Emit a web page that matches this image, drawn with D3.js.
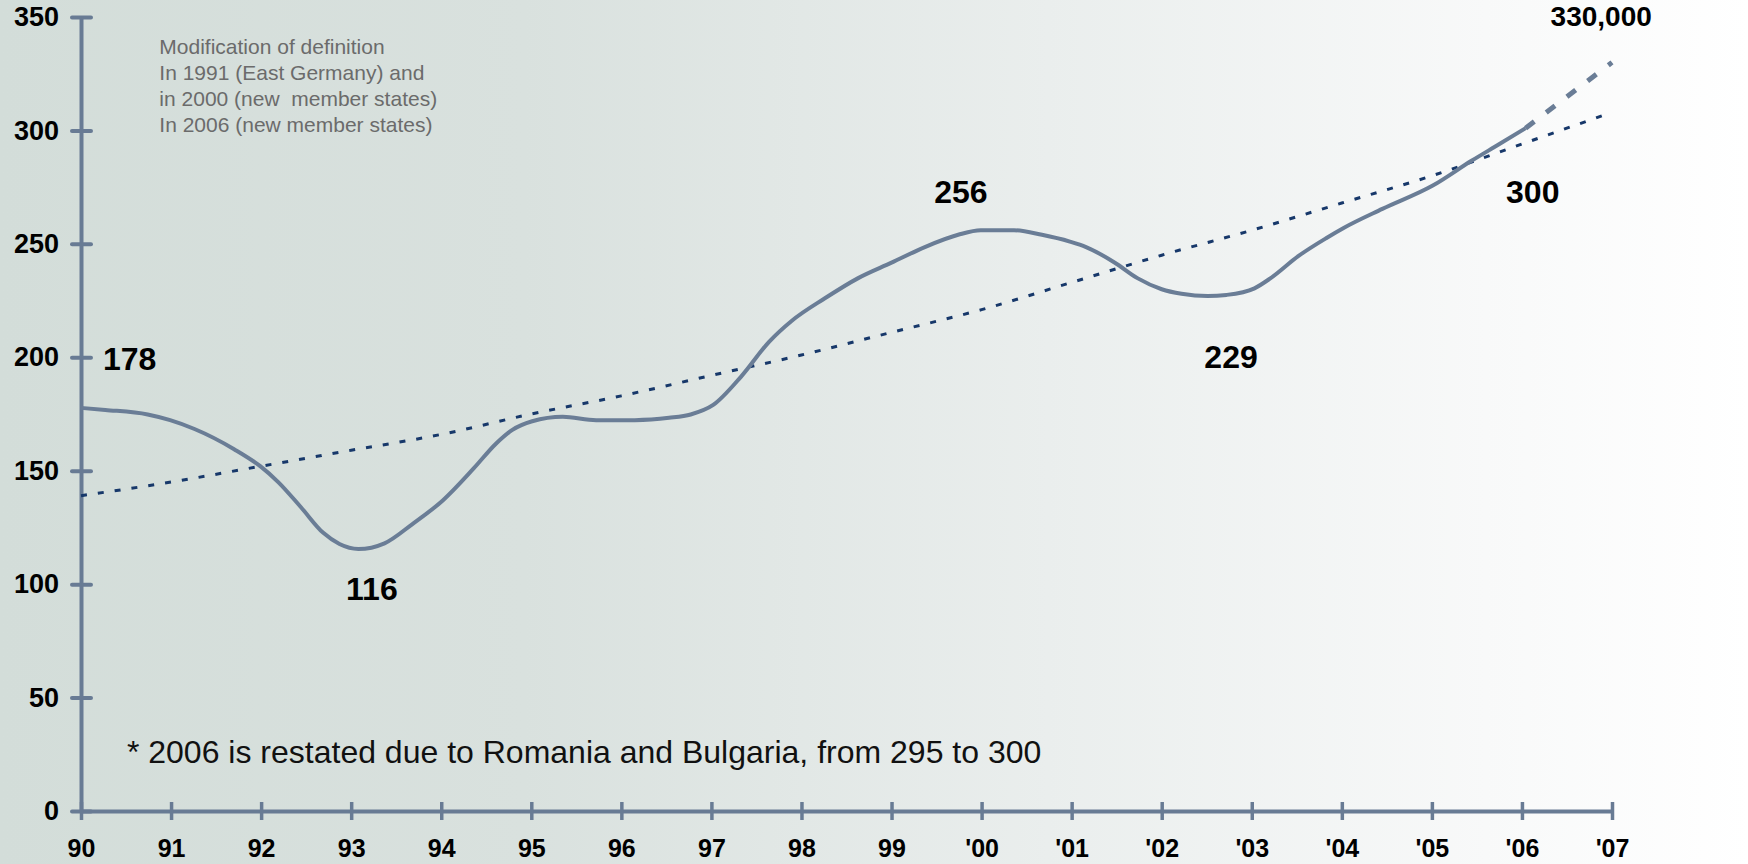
<!DOCTYPE html>
<html>
<head>
<meta charset="utf-8">
<script src="https://cdn.jsdelivr.net/npm/d3@7"></script>
<style>
  html, body { margin: 0; padding: 0; background: #fff; }
  svg { display: block; }
  text { font-family: "Liberation Sans", Arial, sans-serif; }
</style>
</head>
<body>
<svg id="chart" width="1748" height="864"></svg>
<script>
// ---------- data ----------
const tickYears = [1990,1991,1992,1993,1994,1995,1996,1997,1998,1999,2000,2001,2002,2003,2004,2005,2006,2007];
const tickLabels = ["90","91","92","93","94","95","96","97","98","99","'00","'01","'02","'03","'04","'05","'06","'07"];
const yTicks = [0,50,100,150,200,250,300,350];

const actualYears = [1990.00,1990.27,1990.74,1990.99,1991.26,1991.70,1991.99,1992.19,1992.44,1992.69,1992.87,1993.08,
  1993.37,1993.68,1994.02,1994.36,1994.61,1994.79,1995.01,1995.35,1995.72,1996.15,1996.53,1996.77,1997.02,1997.33,
  1997.64,1997.89,1998.26,1998.63,1999.00,1999.37,1999.74,1999.99,2000.36,2000.67,2000.98,2001.16,2001.48,2001.73,
  2002.00,2002.22,2002.51,2002.72,2003.03,2003.21,2003.52,2003.83,2004.02,2004.45,2005.01,2005.44,2005.75,2006.04];
const actualValues = [177.7,176.8,174.8,172.3,168.4,159.5,152,145,134,122.6,117.7,115.5,
  118,126.5,137,151,162,168,171.8,173.8,172.3,172.3,173.3,174.8,179,191.5,
  206.8,216,226,234.9,241.7,248.6,254,256,256,254,251,248.6,241.7,234.9,
  230,228,227,227.5,230.4,234.9,244.7,252.6,257,265.4,275.7,286.6,294,301];

// forecast extension
const forecastYears = [2006.04, 2007];
const forecastValues = [301, 330];

// trend line
const trendYears = tickYears;
const trendValues = [139,145,152,159,166,175,183,192,201,211,221,233,245,256,268,280,294,308];

// annotations
const annoText   = ["178","116","256","229","300"];
const annoYears  = [1990.54,1993.23,1999.77,2002.77,2006.12];
const annoValues = [194.6,93.1,268.1,195.3,268.1];

const noteLines = ["Modification of definition","In 1991 (East Germany) and","in 2000 (new  member states)","In 2006 (new member states)"];
const footnote = "* 2006 is restated due to Romania and Bulgaria, from 295 to 300";
const topLabel = "330,000";

// ---------- drawing ----------
const W = 1748, H = 864;
const svg = d3.select("#chart");

const defs = svg.append("defs");
const grad = defs.append("linearGradient").attr("id","bg").attr("x1","0").attr("x2","1").attr("y1","0").attr("y2","0");
[[0,"#d3ddd9"],[0.3,"#d9e1de"],[0.6,"#eaeeed"],[0.85,"#f8f9f9"],[1,"#ffffff"]].forEach(s =>
  grad.append("stop").attr("offset", s[0]).attr("stop-color", s[1]));
svg.append("rect").attr("width", W).attr("height", H).attr("fill","url(#bg)");

const x = d3.scaleLinear().domain([1990, 2007]).range([81, 1612]);
const y = d3.scaleLinear().domain([0, 350]).range([811, 17]);

const axisColor = "#687b94";

// y axis
const yAxis = svg.append("g").attr("transform", `translate(${x(1990)},0)`)
  .call(d3.axisLeft(y).tickValues(yTicks).tickSize(0).tickPadding(22));
yAxis.select(".domain").attr("stroke", axisColor).attr("stroke-width", 4);
yAxis.selectAll(".tick line").remove();
yAxis.selectAll(".tick").append("line").attr("x1",-9).attr("x2",10)
  .attr("stroke", axisColor).attr("stroke-width", 4).attr("stroke-linecap","round");
yAxis.selectAll(".tick text").attr("fill","#000").style("font-size","27px").style("font-weight","bold");

// x axis
const xAxis = svg.append("g").attr("transform", `translate(0,${y(0)})`)
  .call(d3.axisBottom(x).tickValues(tickYears).tickFormat((d,i) => tickLabels[i]).tickSize(0).tickPadding(28));
xAxis.select(".domain").attr("stroke", axisColor).attr("stroke-width", 4);
xAxis.selectAll(".tick line").remove();
xAxis.selectAll(".tick").append("line").attr("y1",-9).attr("y2",9)
  .attr("stroke", axisColor).attr("stroke-width", 3.5);
xAxis.selectAll(".tick text").attr("fill","#000").style("font-size","25px").style("font-weight","bold");
svg.selectAll(".tick text").attr("font-size", null).attr("font-family", null);

// trend line
const line = d3.line().x(d => x(d[0])).y(d => y(d[1]));
svg.append("path")
  .datum(trendYears.map((d,i) => [d, trendValues[i]]))
  .attr("d", d3.line().x(d => x(d[0])).y(d => y(d[1])).curve(d3.curveMonotoneX))
  .attr("fill","none").attr("stroke","#17386a").attr("stroke-width",3).attr("stroke-dasharray","6,11");

// actual line
svg.append("path")
  .datum(actualYears.map((d,i) => [d, actualValues[i]]))
  .attr("d", d3.line().x(d => x(d[0])).y(d => y(d[1])).curve(d3.curveMonotoneX))
  .attr("fill","none").attr("stroke","#6a7d96").attr("stroke-width",4).attr("stroke-linejoin","round");

// forecast
svg.append("path")
  .datum(forecastYears.map((d,i) => [d, forecastValues[i]]))
  .attr("d", line)
  .attr("fill","none").attr("stroke","#6a7d96").attr("stroke-width",5).attr("stroke-dasharray","11,15");

// annotations
svg.selectAll("text.anno").data(annoText).enter().append("text")
  .attr("class","anno")
  .attr("x", (d,i) => x(annoYears[i])).attr("y", (d,i) => y(annoValues[i]))
  .attr("text-anchor","middle").style("font-size","32px").style("font-weight","bold").attr("fill","#000")
  .text(d => d);

// top label (kept fully inside the picture)
svg.append("text").attr("x", x(2006.88)).attr("y", y(346))
  .attr("text-anchor","middle").style("font-size","28px").style("font-weight","bold").attr("fill","#000")
  .text(topLabel);

// note
const note = svg.append("text").attr("x", x(1990.87)).attr("y", 54).attr("fill","#6b6b6b").style("font-size","21px");
noteLines.forEach((l,i) => note.append("tspan").attr("x", x(1990.87)).attr("dy", i === 0 ? 0 : 26).text(l));
note.style("white-space","pre");

// footnote
svg.append("text").attr("x", x(1990.51)).attr("y", 763).attr("fill","#111").style("font-size","32px").text(footnote);
</script>
</body>
</html>
